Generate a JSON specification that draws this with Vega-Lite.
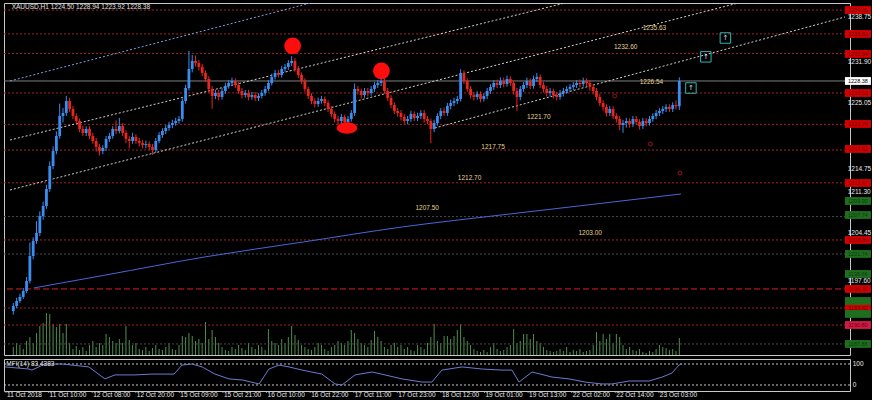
{
"$schema": "https://vega.github.io/schema/vega-lite/v6.json",
"background": "#000000",
"padding": {"left": 2, "top": 2, "right": 0, "bottom": 0},
"spacing": 2,
"config": {
  "view": {"stroke": "#c8c8c8", "strokeWidth": 1},
  "text": {"font": "Liberation Sans"}
},
"datasets": {
"candles": [
{"i":0,"o":1192.96,"h":1194.2,"l":1192.4,"c":1193.73,"v":800},
{"i":1,"o":1193.73,"h":1195.0,"l":1193.4,"c":1194.5,"v":1200},
{"i":2,"o":1194.5,"h":1195.6,"l":1194.2,"c":1195.12,"v":1000},
{"i":3,"o":1195.12,"h":1196.5,"l":1194.8,"c":1196.04,"v":600},
{"i":4,"o":1196.04,"h":1198.2,"l":1195.7,"c":1197.58,"v":1400},
{"i":5,"o":1197.58,"h":1203.5,"l":1197.2,"c":1201.43,"v":1800},
{"i":6,"o":1201.43,"h":1204.3,"l":1200.9,"c":1203.74,"v":1200},
{"i":7,"o":1203.74,"h":1206.8,"l":1203.3,"c":1204.97,"v":2200},
{"i":8,"o":1204.97,"h":1208.3,"l":1204.5,"c":1207.59,"v":2900},
{"i":9,"o":1207.59,"h":1209.8,"l":1207.0,"c":1209.13,"v":3200},
{"i":10,"o":1209.13,"h":1212.4,"l":1208.7,"c":1211.75,"v":4200},
{"i":11,"o":1211.75,"h":1216.0,"l":1211.3,"c":1215.29,"v":4100},
{"i":12,"o":1215.29,"h":1218.3,"l":1214.8,"c":1217.6,"v":3100},
{"i":13,"o":1217.6,"h":1220.6,"l":1217.1,"c":1219.91,"v":2800},
{"i":14,"o":1219.91,"h":1224.9,"l":1219.5,"c":1222.99,"v":3100},
{"i":15,"o":1222.99,"h":1224.2,"l":1222.0,"c":1223.45,"v":2200},
{"i":16,"o":1223.45,"h":1226.1,"l":1223.0,"c":1225.3,"v":3100},
{"i":17,"o":1225.3,"h":1225.8,"l":1223.6,"c":1224.07,"v":1200},
{"i":18,"o":1224.07,"h":1224.5,"l":1222.5,"c":1222.99,"v":600},
{"i":19,"o":1222.99,"h":1223.4,"l":1221.7,"c":1222.22,"v":900},
{"i":20,"o":1222.22,"h":1222.6,"l":1220.5,"c":1220.99,"v":500},
{"i":21,"o":1220.99,"h":1221.5,"l":1219.9,"c":1220.37,"v":800},
{"i":22,"o":1220.37,"h":1221.4,"l":1219.9,"c":1220.99,"v":400},
{"i":23,"o":1220.99,"h":1221.4,"l":1219.4,"c":1219.91,"v":1000},
{"i":24,"o":1219.91,"h":1220.4,"l":1218.7,"c":1219.14,"v":1400},
{"i":25,"o":1219.14,"h":1219.6,"l":1217.5,"c":1218.22,"v":800},
{"i":26,"o":1218.22,"h":1218.7,"l":1216.9,"c":1217.6,"v":1200},
{"i":27,"o":1217.6,"h":1218.5,"l":1217.1,"c":1218.06,"v":1000},
{"i":28,"o":1218.06,"h":1219.9,"l":1217.6,"c":1219.45,"v":2100},
{"i":29,"o":1219.45,"h":1220.4,"l":1219.0,"c":1219.91,"v":1800},
{"i":30,"o":1219.91,"h":1221.4,"l":1219.5,"c":1220.99,"v":1400},
{"i":31,"o":1220.99,"h":1222.3,"l":1220.2,"c":1220.68,"v":1200},
{"i":32,"o":1220.68,"h":1222.7,"l":1220.3,"c":1221.45,"v":1600},
{"i":33,"o":1221.45,"h":1221.9,"l":1219.9,"c":1220.37,"v":1200},
{"i":34,"o":1220.37,"h":1220.8,"l":1218.8,"c":1219.45,"v":2900},
{"i":35,"o":1219.45,"h":1219.9,"l":1218.0,"c":1219.14,"v":1500},
{"i":36,"o":1219.14,"h":1220.4,"l":1218.7,"c":1219.76,"v":1000},
{"i":37,"o":1219.76,"h":1220.2,"l":1218.7,"c":1219.14,"v":1200},
{"i":38,"o":1219.14,"h":1219.6,"l":1218.3,"c":1218.83,"v":600},
{"i":39,"o":1218.83,"h":1219.3,"l":1218.0,"c":1218.52,"v":500},
{"i":40,"o":1218.52,"h":1219.2,"l":1218.0,"c":1218.68,"v":800},
{"i":41,"o":1218.68,"h":1219.1,"l":1217.7,"c":1218.22,"v":400},
{"i":42,"o":1218.22,"h":1218.7,"l":1217.0,"c":1217.75,"v":700},
{"i":43,"o":1217.75,"h":1219.6,"l":1217.3,"c":1219.14,"v":1000},
{"i":44,"o":1219.14,"h":1220.5,"l":1218.8,"c":1220.06,"v":600},
{"i":45,"o":1220.06,"h":1221.1,"l":1219.6,"c":1220.68,"v":500},
{"i":46,"o":1220.68,"h":1221.6,"l":1220.2,"c":1221.14,"v":800},
{"i":47,"o":1221.14,"h":1222.1,"l":1220.7,"c":1221.6,"v":1200},
{"i":48,"o":1221.6,"h":1222.4,"l":1221.1,"c":1221.91,"v":600},
{"i":49,"o":1221.91,"h":1222.7,"l":1221.5,"c":1222.22,"v":500},
{"i":50,"o":1222.22,"h":1223.0,"l":1221.8,"c":1222.53,"v":1000},
{"i":51,"o":1222.53,"h":1225.7,"l":1222.1,"c":1225.3,"v":1900},
{"i":52,"o":1225.3,"h":1227.8,"l":1224.9,"c":1227.3,"v":1800},
{"i":53,"o":1227.3,"h":1233.0,"l":1226.9,"c":1230.23,"v":2200},
{"i":54,"o":1230.23,"h":1232.4,"l":1229.7,"c":1231.46,"v":1900},
{"i":55,"o":1231.46,"h":1232.3,"l":1230.6,"c":1231.15,"v":1400},
{"i":56,"o":1231.15,"h":1231.6,"l":1230.0,"c":1230.54,"v":1600},
{"i":57,"o":1230.54,"h":1231.0,"l":1229.1,"c":1229.61,"v":1200},
{"i":58,"o":1229.61,"h":1230.0,"l":1228.2,"c":1228.69,"v":3300},
{"i":59,"o":1228.69,"h":1229.1,"l":1226.6,"c":1227.15,"v":1600},
{"i":60,"o":1227.15,"h":1227.6,"l":1224.1,"c":1226.07,"v":2500},
{"i":61,"o":1226.07,"h":1227.0,"l":1225.6,"c":1226.53,"v":1800},
{"i":62,"o":1226.53,"h":1227.0,"l":1225.4,"c":1225.92,"v":1200},
{"i":63,"o":1225.92,"h":1227.3,"l":1225.5,"c":1226.84,"v":800},
{"i":64,"o":1226.84,"h":1228.1,"l":1226.4,"c":1227.61,"v":500},
{"i":65,"o":1227.61,"h":1228.5,"l":1227.2,"c":1228.07,"v":400},
{"i":66,"o":1228.07,"h":1228.9,"l":1227.6,"c":1228.38,"v":800},
{"i":67,"o":1228.38,"h":1228.8,"l":1227.3,"c":1227.76,"v":600},
{"i":68,"o":1227.76,"h":1228.2,"l":1226.4,"c":1226.84,"v":1000},
{"i":69,"o":1226.84,"h":1227.3,"l":1225.7,"c":1226.22,"v":700},
{"i":70,"o":1226.22,"h":1227.0,"l":1225.8,"c":1226.53,"v":500},
{"i":71,"o":1226.53,"h":1227.0,"l":1225.4,"c":1225.92,"v":1200},
{"i":72,"o":1225.92,"h":1226.7,"l":1225.5,"c":1226.22,"v":800},
{"i":73,"o":1226.22,"h":1226.7,"l":1225.3,"c":1225.76,"v":600},
{"i":74,"o":1225.76,"h":1226.5,"l":1225.3,"c":1226.07,"v":1000},
{"i":75,"o":1226.07,"h":1227.0,"l":1225.7,"c":1226.53,"v":800},
{"i":76,"o":1226.53,"h":1227.6,"l":1226.1,"c":1227.15,"v":500},
{"i":77,"o":1227.15,"h":1228.5,"l":1226.8,"c":1228.07,"v":2600},
{"i":78,"o":1228.07,"h":1229.5,"l":1227.7,"c":1229.0,"v":1400},
{"i":79,"o":1229.0,"h":1230.1,"l":1228.6,"c":1229.61,"v":1200},
{"i":80,"o":1229.61,"h":1230.1,"l":1228.9,"c":1229.3,"v":1000},
{"i":81,"o":1229.3,"h":1230.7,"l":1228.9,"c":1230.23,"v":1600},
{"i":82,"o":1230.23,"h":1231.0,"l":1229.8,"c":1230.54,"v":1200},
{"i":83,"o":1230.54,"h":1231.6,"l":1230.1,"c":1231.15,"v":1800},
{"i":84,"o":1231.15,"h":1232.2,"l":1230.7,"c":1231.46,"v":2900},
{"i":85,"o":1231.46,"h":1231.9,"l":1229.8,"c":1230.23,"v":2000},
{"i":86,"o":1230.23,"h":1230.7,"l":1228.8,"c":1229.3,"v":1500},
{"i":87,"o":1229.3,"h":1229.7,"l":1227.9,"c":1228.38,"v":1000},
{"i":88,"o":1228.38,"h":1228.8,"l":1226.7,"c":1227.15,"v":800},
{"i":89,"o":1227.15,"h":1227.5,"l":1225.6,"c":1226.07,"v":600},
{"i":90,"o":1226.07,"h":1226.5,"l":1224.8,"c":1225.3,"v":500},
{"i":91,"o":1225.3,"h":1225.7,"l":1224.3,"c":1224.84,"v":800},
{"i":92,"o":1224.84,"h":1225.8,"l":1224.4,"c":1225.3,"v":1200},
{"i":93,"o":1225.3,"h":1226.1,"l":1224.9,"c":1225.61,"v":1000},
{"i":94,"o":1225.61,"h":1226.0,"l":1224.5,"c":1224.99,"v":600},
{"i":95,"o":1224.99,"h":1225.4,"l":1223.6,"c":1224.07,"v":400},
{"i":96,"o":1224.07,"h":1224.5,"l":1222.8,"c":1223.3,"v":800},
{"i":97,"o":1223.3,"h":1223.7,"l":1222.0,"c":1222.53,"v":1000},
{"i":98,"o":1222.53,"h":1223.0,"l":1221.7,"c":1222.22,"v":1400},
{"i":99,"o":1222.22,"h":1223.3,"l":1221.8,"c":1222.84,"v":1200},
{"i":100,"o":1222.84,"h":1223.2,"l":1221.6,"c":1222.07,"v":1000},
{"i":101,"o":1222.07,"h":1223.0,"l":1221.6,"c":1222.53,"v":1400},
{"i":102,"o":1222.53,"h":1223.9,"l":1222.1,"c":1223.45,"v":2500},
{"i":103,"o":1223.45,"h":1228.0,"l":1223.0,"c":1227.15,"v":2200},
{"i":104,"o":1227.15,"h":1227.6,"l":1226.3,"c":1226.84,"v":1600},
{"i":105,"o":1226.84,"h":1227.2,"l":1225.7,"c":1226.22,"v":1200},
{"i":106,"o":1226.22,"h":1227.3,"l":1225.8,"c":1226.84,"v":1000},
{"i":107,"o":1226.84,"h":1227.3,"l":1226.0,"c":1226.53,"v":800},
{"i":108,"o":1226.53,"h":1227.6,"l":1226.1,"c":1227.15,"v":1500},
{"i":109,"o":1227.15,"h":1228.2,"l":1226.7,"c":1227.76,"v":2400},
{"i":110,"o":1227.76,"h":1228.5,"l":1227.3,"c":1228.07,"v":1800},
{"i":111,"o":1228.07,"h":1228.9,"l":1227.6,"c":1228.38,"v":1400},
{"i":112,"o":1228.38,"h":1228.8,"l":1226.4,"c":1226.84,"v":800},
{"i":113,"o":1226.84,"h":1227.3,"l":1225.3,"c":1225.76,"v":600},
{"i":114,"o":1225.76,"h":1226.2,"l":1224.2,"c":1224.68,"v":1000},
{"i":115,"o":1224.68,"h":1225.1,"l":1223.3,"c":1223.76,"v":1200},
{"i":116,"o":1223.76,"h":1224.2,"l":1222.9,"c":1223.45,"v":800},
{"i":117,"o":1223.45,"h":1223.9,"l":1222.3,"c":1222.84,"v":1000},
{"i":118,"o":1222.84,"h":1223.3,"l":1221.7,"c":1222.22,"v":600},
{"i":119,"o":1222.22,"h":1223.0,"l":1221.7,"c":1222.53,"v":800},
{"i":120,"o":1222.53,"h":1223.8,"l":1222.1,"c":1223.3,"v":500},
{"i":121,"o":1223.3,"h":1223.7,"l":1222.2,"c":1222.68,"v":400},
{"i":122,"o":1222.68,"h":1223.5,"l":1222.2,"c":1222.99,"v":1000},
{"i":123,"o":1222.99,"h":1223.9,"l":1222.5,"c":1223.45,"v":800},
{"i":124,"o":1223.45,"h":1223.9,"l":1222.0,"c":1222.53,"v":600},
{"i":125,"o":1222.53,"h":1223.0,"l":1221.7,"c":1222.22,"v":1200},
{"i":126,"o":1222.22,"h":1222.6,"l":1218.8,"c":1220.99,"v":1800},
{"i":127,"o":1220.99,"h":1222.4,"l":1220.5,"c":1221.91,"v":3100},
{"i":128,"o":1221.91,"h":1223.4,"l":1221.5,"c":1222.99,"v":1400},
{"i":129,"o":1222.99,"h":1224.2,"l":1222.5,"c":1223.76,"v":1200},
{"i":130,"o":1223.76,"h":1224.3,"l":1223.0,"c":1223.45,"v":1900},
{"i":131,"o":1223.45,"h":1225.0,"l":1223.0,"c":1224.53,"v":1900},
{"i":132,"o":1224.53,"h":1225.5,"l":1224.0,"c":1224.99,"v":1600},
{"i":133,"o":1224.99,"h":1225.8,"l":1224.5,"c":1225.3,"v":1900},
{"i":134,"o":1225.3,"h":1226.1,"l":1224.8,"c":1225.61,"v":2500},
{"i":135,"o":1225.61,"h":1230.2,"l":1225.2,"c":1229.61,"v":3100},
{"i":136,"o":1229.61,"h":1230.0,"l":1227.9,"c":1228.38,"v":1800},
{"i":137,"o":1228.38,"h":1228.8,"l":1226.7,"c":1227.15,"v":1400},
{"i":138,"o":1227.15,"h":1227.6,"l":1225.7,"c":1226.22,"v":1000},
{"i":139,"o":1226.22,"h":1226.7,"l":1225.4,"c":1225.92,"v":600},
{"i":140,"o":1225.92,"h":1226.8,"l":1225.5,"c":1226.38,"v":400},
{"i":141,"o":1226.38,"h":1226.8,"l":1225.1,"c":1225.61,"v":300},
{"i":142,"o":1225.61,"h":1226.5,"l":1225.2,"c":1226.07,"v":500},
{"i":143,"o":1226.07,"h":1227.3,"l":1225.6,"c":1226.84,"v":300},
{"i":144,"o":1226.84,"h":1227.9,"l":1226.4,"c":1227.46,"v":800},
{"i":145,"o":1227.46,"h":1228.5,"l":1227.0,"c":1228.07,"v":1200},
{"i":146,"o":1228.07,"h":1228.6,"l":1227.3,"c":1227.76,"v":600},
{"i":147,"o":1227.76,"h":1228.9,"l":1227.3,"c":1228.38,"v":400},
{"i":148,"o":1228.38,"h":1228.9,"l":1227.4,"c":1227.92,"v":500},
{"i":149,"o":1227.92,"h":1229.2,"l":1227.5,"c":1228.69,"v":800},
{"i":150,"o":1228.69,"h":1229.1,"l":1227.6,"c":1228.07,"v":1000},
{"i":151,"o":1228.07,"h":1228.5,"l":1226.3,"c":1226.84,"v":2600},
{"i":152,"o":1226.84,"h":1227.3,"l":1223.8,"c":1225.92,"v":1200},
{"i":153,"o":1225.92,"h":1227.6,"l":1225.4,"c":1227.15,"v":1400},
{"i":154,"o":1227.15,"h":1228.2,"l":1226.7,"c":1227.76,"v":2100},
{"i":155,"o":1227.76,"h":1228.9,"l":1227.3,"c":1228.38,"v":2100},
{"i":156,"o":1228.38,"h":1228.8,"l":1227.1,"c":1227.61,"v":1600},
{"i":157,"o":1227.61,"h":1229.2,"l":1227.2,"c":1228.69,"v":2100},
{"i":158,"o":1228.69,"h":1229.6,"l":1228.2,"c":1229.0,"v":1400},
{"i":159,"o":1229.0,"h":1229.4,"l":1227.3,"c":1227.76,"v":1200},
{"i":160,"o":1227.76,"h":1228.2,"l":1226.6,"c":1227.15,"v":800},
{"i":161,"o":1227.15,"h":1227.6,"l":1226.0,"c":1226.53,"v":500},
{"i":162,"o":1226.53,"h":1227.3,"l":1226.0,"c":1226.84,"v":400},
{"i":163,"o":1226.84,"h":1227.2,"l":1225.7,"c":1226.22,"v":300},
{"i":164,"o":1226.22,"h":1226.7,"l":1225.4,"c":1225.92,"v":400},
{"i":165,"o":1225.92,"h":1227.0,"l":1225.5,"c":1226.53,"v":600},
{"i":166,"o":1226.53,"h":1227.3,"l":1226.0,"c":1226.84,"v":400},
{"i":167,"o":1226.84,"h":1227.6,"l":1226.4,"c":1227.15,"v":800},
{"i":168,"o":1227.15,"h":1227.9,"l":1226.7,"c":1227.46,"v":300},
{"i":169,"o":1227.46,"h":1228.2,"l":1227.0,"c":1227.76,"v":500},
{"i":170,"o":1227.76,"h":1228.5,"l":1227.3,"c":1228.07,"v":400},
{"i":171,"o":1228.07,"h":1228.6,"l":1227.4,"c":1227.92,"v":600},
{"i":172,"o":1227.92,"h":1228.9,"l":1227.5,"c":1228.38,"v":300},
{"i":173,"o":1228.38,"h":1228.8,"l":1227.6,"c":1228.07,"v":400},
{"i":174,"o":1228.07,"h":1228.5,"l":1226.9,"c":1227.46,"v":500},
{"i":175,"o":1227.46,"h":1227.9,"l":1226.3,"c":1226.84,"v":1000},
{"i":176,"o":1226.84,"h":1227.3,"l":1225.4,"c":1225.92,"v":2300},
{"i":177,"o":1225.92,"h":1226.4,"l":1224.5,"c":1224.99,"v":1400},
{"i":178,"o":1224.99,"h":1225.4,"l":1223.8,"c":1224.38,"v":2100},
{"i":179,"o":1224.38,"h":1224.8,"l":1222.9,"c":1223.45,"v":1600},
{"i":180,"o":1223.45,"h":1224.5,"l":1223.0,"c":1224.07,"v":2100},
{"i":181,"o":1224.07,"h":1224.5,"l":1222.5,"c":1222.99,"v":1200},
{"i":182,"o":1222.99,"h":1223.4,"l":1222.0,"c":1222.53,"v":2100},
{"i":183,"o":1222.53,"h":1223.0,"l":1220.8,"c":1221.6,"v":1800},
{"i":184,"o":1221.6,"h":1222.4,"l":1220.4,"c":1221.91,"v":1000},
{"i":185,"o":1221.91,"h":1222.7,"l":1221.2,"c":1222.22,"v":600},
{"i":186,"o":1222.22,"h":1222.6,"l":1221.2,"c":1221.76,"v":800},
{"i":187,"o":1221.76,"h":1223.0,"l":1221.3,"c":1222.53,"v":500},
{"i":188,"o":1222.53,"h":1223.0,"l":1221.6,"c":1222.07,"v":400},
{"i":189,"o":1222.07,"h":1222.5,"l":1220.9,"c":1221.45,"v":600},
{"i":190,"o":1221.45,"h":1222.7,"l":1221.0,"c":1222.22,"v":300},
{"i":191,"o":1222.22,"h":1222.7,"l":1221.4,"c":1221.91,"v":200},
{"i":192,"o":1221.91,"h":1223.0,"l":1221.5,"c":1222.53,"v":400},
{"i":193,"o":1222.53,"h":1223.4,"l":1222.1,"c":1222.99,"v":300},
{"i":194,"o":1222.99,"h":1223.9,"l":1222.5,"c":1223.45,"v":600},
{"i":195,"o":1223.45,"h":1224.2,"l":1223.0,"c":1223.76,"v":1000},
{"i":196,"o":1223.76,"h":1224.5,"l":1223.3,"c":1224.07,"v":800},
{"i":197,"o":1224.07,"h":1224.8,"l":1223.6,"c":1224.38,"v":700},
{"i":198,"o":1224.38,"h":1224.8,"l":1223.6,"c":1224.07,"v":500},
{"i":199,"o":1224.07,"h":1225.1,"l":1223.6,"c":1224.68,"v":600},
{"i":200,"o":1224.68,"h":1225.4,"l":1224.0,"c":1224.5,"v":400},
{"i":201,"o":1224.5,"h":1228.94,"l":1223.92,"c":1228.38,"v":1700}
],
"hl": [
{"p":1239.3,"k":"r"},{"p":1235.63,"k":"r"},{"p":1232.6,"k":"r"},{"p":1226.54,"k":"r"},{"p":1221.7,"k":"r"},{"p":1217.75,"k":"r"},{"p":1212.7,"k":"r"},{"p":1203.9,"k":"r"},{"p":1193.42,"k":"r"},{"p":1190.8,"k":"r"},
{"p":1196.35,"k":"b"},
{"p":1207.5,"k":"g"},{"p":1201.74,"k":"g"},{"p":1187.88,"k":"g"},
{"p":1228.38,"k":"bid"}
],
"chan": [
{"id":"L1","i":-1,"p":1228.38},{"id":"L1","i":92.05,"p":1240.7},
{"id":"L2","i":-1,"p":1219.29},{"id":"L2","i":169,"p":1240.7},
{"id":"L3","i":-1,"p":1211.59},{"id":"L3","i":218.8,"p":1240.39},
{"id":"L4","i":127.2,"p":1221.14},{"id":"L4","i":251,"p":1238.24}
],
"ma": [
{"i":6.16,"p":1196.5},{"i":27.9,"p":1198.5},{"i":57.8,"p":1201.28},{"i":87.6,"p":1203.59},{"i":117.4,"p":1205.9},{"i":147.2,"p":1207.74},{"i":177,"p":1209.51},{"i":201.5,"p":1210.98}
],
"lbl": [
{"t":"1235.63","i":193.5,"p":1236.54},{"t":"1232.60","i":184.8,"p":1233.62},{"t":"1226.54","i":192.6,"p":1228.23},{"t":"1221.70","i":158.6,"p":1222.84},{"t":"1217.75","i":144.8,"p":1218.22},{"t":"1212.70","i":137.7,"p":1213.44},{"t":"1207.50","i":124.9,"p":1208.82},{"t":"1203.00","i":174.1,"p":1204.97}
],
"dots": [{"i":84.3,"p":1233.77},{"i":111.1,"p":1229.92}],
"ell": [{"i":100.7,"p":1221.14}],
"teal": [{"i":204.5,"p":1227.3},{"i":209,"p":1232.1},{"i":214.9,"p":1235.0}],
"rglyph": [{"i":201.2,"p":1214.2},{"i":181.5,"p":1226.07},{"i":192.3,"p":1218.68}],
"ylab": [{"p":1197.6},{"p":1211.3},{"p":1214.75},{"p":1225.05}],
"ylabdn": [{"p":1231.9},{"p":1238.75}],
"ylabup": [{"p":1204.45}],
"boxes": [
{"p":1239.31,"k":"r"},{"p":1235.62,"k":"r"},{"p":1232.54,"k":"r"},{"p":1226.53,"k":"r"},{"p":1221.76,"k":"r"},{"p":1217.91,"k":"r"},{"p":1212.67,"k":"r"},{"p":1203.89,"k":"r"},{"p":1196.35,"k":"r"},{"p":1193.42,"k":"r"},{"p":1190.8,"k":"pk"},
{"p":1209.9,"k":"g"},{"p":1207.74,"k":"g"},{"p":1201.74,"k":"g"},{"p":1198.66,"k":"g"},{"p":1194.5,"k":"g"},{"p":1192.5,"k":"g"},{"p":1187.88,"k":"g"},
{"p":1228.38,"k":"w"}
],
"mfi": [
{"i":-1,"m":86},{"i":6.2,"m":76},{"i":7,"m":71},{"i":10.9,"m":100},{"i":16,"m":100},{"i":24,"m":86},{"i":28.8,"m":29},{"i":31.8,"m":48},{"i":37.8,"m":48},{"i":42.8,"m":52},{"i":49.4,"m":52},{"i":51.8,"m":95},{"i":54.8,"m":100},{"i":57.8,"m":86},{"i":61.6,"m":52},{"i":65.8,"m":29},{"i":69.7,"m":24},{"i":74.8,"m":5},{"i":77.7,"m":76},{"i":80.7,"m":95},{"i":83.7,"m":86},{"i":87.6,"m":71},{"i":93.5,"m":52},{"i":97.4,"m":5},{"i":99.5,"m":0},{"i":103.4,"m":48},{"i":108.5,"m":62},{"i":112.3,"m":48},{"i":117.4,"m":29},{"i":123.4,"m":14},{"i":126.3,"m":14},{"i":129.3,"m":71},{"i":135.3,"m":86},{"i":141.3,"m":76},{"i":147.2,"m":71},{"i":150.2,"m":71},{"i":152.3,"m":14},{"i":156.2,"m":62},{"i":162.1,"m":38},{"i":167.2,"m":29},{"i":172,"m":14},{"i":177,"m":5},{"i":180,"m":5},{"i":185.1,"m":19},{"i":191.1,"m":19},{"i":195,"m":38},{"i":197.9,"m":57},{"i":200,"m":95},{"i":200.9,"m":100}
],
"lev": [{"m":0},{"m":100}],
"tlab": [
{"i":-0.7,"t":"11 Oct 2018"},{"i":12,"t":"11 Oct 10:00"},{"i":25,"t":"12 Oct 08:00"},{"i":38,"t":"12 Oct 20:00"},{"i":51,"t":"15 Oct 09:00"},{"i":64,"t":"15 Oct 21:00"},{"i":77,"t":"16 Oct 10:00"},{"i":90,"t":"16 Oct 22:00"},{"i":103,"t":"17 Oct 11:00"},{"i":116,"t":"17 Oct 23:00"},{"i":129,"t":"18 Oct 12:00"},{"i":142,"t":"19 Oct 01:00"},{"i":155,"t":"19 Oct 13:00"},{"i":168,"t":"22 Oct 02:00"},{"i":181,"t":"22 Oct 14:00"},{"i":194,"t":"23 Oct 03:00"}
]
},
"vconcat": [
{
 "width": 846, "height": 352,
 "resolve": {"scale": {"y": "independent"}},
 "layer": [
  {
   "data": {"name": "candles"},
   "mark": {"type": "rule", "strokeWidth": 1, "color": "#4f8f4f"},
   "encoding": {
    "x": {"field": "i", "type": "quantitative", "scale": {"domain": [-1.3, 251], "nice": false, "zero": false}, "axis": null},
    "y": {"field": "v", "type": "quantitative", "scale": {"domain": [0, 35200], "nice": false}, "axis": null},
    "y2": {"datum": 0}
   }
  },
  {
   "layer": [
    {
     "data": {"name": "hl"},
     "transform": [{"filter": "datum.k == 'r'"}],
     "mark": {"type": "rule", "color": "#a52222", "strokeDash": [2, 2], "strokeWidth": 1},
     "encoding": {
      "y": {"field": "p", "type": "quantitative", "scale": {"domain": [1186.18, 1240.39], "nice": false, "zero": false}, "axis": null}
     }
    },
    {
     "data": {"name": "hl"},
     "transform": [{"filter": "datum.k == 'g'"}],
     "mark": {"type": "rule", "color": "#4a4a4a", "strokeDash": [2, 2], "strokeWidth": 1},
     "encoding": {"y": {"field": "p", "type": "quantitative", "scale": {"domain": [1186.18, 1240.39], "nice": false, "zero": false}, "axis": null}}
    },
    {
     "data": {"name": "hl"},
     "transform": [{"filter": "datum.k == 'b'"}],
     "mark": {"type": "rule", "color": "#e02020", "strokeDash": [6, 3], "strokeWidth": 1},
     "encoding": {"y": {"field": "p", "type": "quantitative", "scale": {"domain": [1186.18, 1240.39], "nice": false, "zero": false}, "axis": null}}
    },
    {
     "data": {"name": "hl"},
     "transform": [{"filter": "datum.k == 'bid'"}],
     "mark": {"type": "rule", "color": "#808080", "strokeWidth": 1},
     "encoding": {"y": {"field": "p", "type": "quantitative", "scale": {"domain": [1186.18, 1240.39], "nice": false, "zero": false}, "axis": null}}
    },
    {
     "data": {"name": "chan"},
     "mark": {"type": "line", "strokeDash": [2, 2], "strokeWidth": 1, "clip": true},
     "encoding": {
      "x": {"field": "i", "type": "quantitative", "scale": {"domain": [-1.3, 251], "nice": false, "zero": false}, "axis": null},
      "y": {"field": "p", "type": "quantitative", "scale": {"domain": [1186.18, 1240.39], "nice": false, "zero": false}, "axis": null},
      "detail": {"field": "id"},
      "color": {"condition": {"test": "datum.id == 'L1'", "value": "#7d9be0"}, "value": "#d0d0d0"}
     }
    },
    {
     "data": {"name": "ma"},
     "mark": {"type": "line", "color": "#4a66d8", "strokeWidth": 1, "interpolate": "monotone"},
     "encoding": {
      "x": {"field": "i", "type": "quantitative", "scale": {"domain": [-1.3, 251], "nice": false, "zero": false}, "axis": null},
      "y": {"field": "p", "type": "quantitative", "scale": {"domain": [1186.18, 1240.39], "nice": false, "zero": false}, "axis": null}
     }
    },
    {
     "data": {"name": "candles"},
     "mark": {"type": "rule", "strokeWidth": 1},
     "encoding": {
      "x": {"field": "i", "type": "quantitative", "scale": {"domain": [-1.3, 251], "nice": false, "zero": false}, "axis": null},
      "y": {"field": "l", "type": "quantitative", "scale": {"domain": [1186.18, 1240.39], "nice": false, "zero": false}, "axis": null},
      "y2": {"field": "h"},
      "color": {"condition": {"test": "datum.c >= datum.o", "value": "#3a8ef0"}, "value": "#e8261e"}
     }
    },
    {
     "data": {"name": "candles"},
     "mark": {"type": "bar", "width": 2.8},
     "encoding": {
      "x": {"field": "i", "type": "quantitative", "scale": {"domain": [-1.3, 251], "nice": false, "zero": false}, "axis": null},
      "y": {"field": "o", "type": "quantitative", "scale": {"domain": [1186.18, 1240.39], "nice": false, "zero": false}, "axis": null},
      "y2": {"field": "c"},
      "color": {"condition": {"test": "datum.c >= datum.o", "value": "#3a8ef0"}, "value": "#e8261e"}
     }
    },
    {
     "data": {"name": "lbl"},
     "mark": {"type": "text", "color": "#e6d28c", "fontSize": 6.5, "align": "center", "baseline": "middle"},
     "encoding": {
      "x": {"field": "i", "type": "quantitative", "scale": {"domain": [-1.3, 251], "nice": false, "zero": false}, "axis": null},
      "y": {"field": "p", "type": "quantitative", "scale": {"domain": [1186.18, 1240.39], "nice": false, "zero": false}, "axis": null},
      "text": {"field": "t"}
     }
    },
    {
     "data": {"name": "dots"},
     "mark": {"type": "point", "shape": "circle", "filled": true, "color": "#ff0d0d", "opacity": 1, "size": 280},
     "encoding": {
      "x": {"field": "i", "type": "quantitative", "scale": {"domain": [-1.3, 251], "nice": false, "zero": false}, "axis": null},
      "y": {"field": "p", "type": "quantitative", "scale": {"domain": [1186.18, 1240.39], "nice": false, "zero": false}, "axis": null}
     }
    },
    {
     "data": {"name": "ell"},
     "mark": {"type": "point", "shape": "M-1,0A1,0.55 0 1,0 1,0A1,0.55 0 1,0 -1,0Z", "filled": true, "color": "#ff0d0d", "opacity": 1, "size": 420},
     "encoding": {
      "x": {"field": "i", "type": "quantitative", "scale": {"domain": [-1.3, 251], "nice": false, "zero": false}, "axis": null},
      "y": {"field": "p", "type": "quantitative", "scale": {"domain": [1186.18, 1240.39], "nice": false, "zero": false}, "axis": null}
     }
    },
    {
     "data": {"name": "teal"},
     "mark": {"type": "point", "shape": "square", "filled": false, "color": "#2fb5b5", "strokeWidth": 1, "opacity": 1, "size": 110},
     "encoding": {
      "x": {"field": "i", "type": "quantitative", "scale": {"domain": [-1.3, 251], "nice": false, "zero": false}, "axis": null},
      "y": {"field": "p", "type": "quantitative", "scale": {"domain": [1186.18, 1240.39], "nice": false, "zero": false}, "axis": null}
     }
    },
    {
     "data": {"name": "teal"},
     "mark": {"type": "text", "text": "↑", "color": "#bfeaea", "fontSize": 7, "align": "center", "baseline": "middle", "font": "DejaVu Sans"},
     "encoding": {
      "x": {"field": "i", "type": "quantitative", "scale": {"domain": [-1.3, 251], "nice": false, "zero": false}, "axis": null},
      "y": {"field": "p", "type": "quantitative", "scale": {"domain": [1186.18, 1240.39], "nice": false, "zero": false}, "axis": null}
     }
    },
    {
     "data": {"name": "rglyph"},
     "mark": {"type": "point", "shape": "circle", "filled": false, "color": "#b01818", "strokeWidth": 1.2, "size": 14},
     "encoding": {
      "x": {"field": "i", "type": "quantitative", "scale": {"domain": [-1.3, 251], "nice": false, "zero": false}, "axis": null},
      "y": {"field": "p", "type": "quantitative", "scale": {"domain": [1186.18, 1240.39], "nice": false, "zero": false}, "axis": null}
     }
    },
    {
     "data": {"values": [{"t": "XAUUSD,H1  1224.50 1228.94 1223.92 1228.38", "i": -0.5, "p": 1239.75}]},
     "mark": {"type": "text", "color": "#e0e0e0", "fontSize": 6.5, "align": "left", "baseline": "middle"},
     "encoding": {
      "x": {"field": "i", "type": "quantitative", "scale": {"domain": [-1.3, 251], "nice": false, "zero": false}, "axis": null},
      "y": {"field": "p", "type": "quantitative", "scale": {"domain": [1186.18, 1240.39], "nice": false, "zero": false}, "axis": null},
      "text": {"field": "t"}
     }
    },
    {
     "data": {"name": "ylab"},
     "mark": {"type": "text", "color": "#e8e8e8", "fontSize": 6.5, "align": "left", "baseline": "middle"},
     "encoding": {
      "x": {"datum": 251.8, "scale": {"domain": [-1.3, 251], "nice": false, "zero": false}, "axis": null},
      "y": {"field": "p", "type": "quantitative", "scale": {"domain": [1186.18, 1240.39], "nice": false, "zero": false}, "axis": null},
      "text": {"field": "p", "type": "quantitative", "format": ".2f"}
     }
    },
    {
     "data": {"name": "ylabdn"},
     "mark": {"type": "text", "color": "#e8e8e8", "fontSize": 6.5, "align": "left", "baseline": "middle", "dy": 3.5},
     "encoding": {
      "x": {"datum": 251.8, "scale": {"domain": [-1.3, 251], "nice": false, "zero": false}, "axis": null},
      "y": {"field": "p", "type": "quantitative", "scale": {"domain": [1186.18, 1240.39], "nice": false, "zero": false}, "axis": null},
      "text": {"field": "p", "type": "quantitative", "format": ".2f"}
     }
    },
    {
     "data": {"name": "ylabup"},
     "mark": {"type": "text", "color": "#e8e8e8", "fontSize": 6.5, "align": "left", "baseline": "middle", "dy": -3.5},
     "encoding": {
      "x": {"datum": 251.8, "scale": {"domain": [-1.3, 251], "nice": false, "zero": false}, "axis": null},
      "y": {"field": "p", "type": "quantitative", "scale": {"domain": [1186.18, 1240.39], "nice": false, "zero": false}, "axis": null},
      "text": {"field": "p", "type": "quantitative", "format": ".2f"}
     }
    },
    {
     "data": {"name": "boxes"},
     "mark": {"type": "point", "shape": "M-1,-0.3H1V0.3H-1Z", "filled": true, "opacity": 1, "size": 676},
     "encoding": {
      "x": {"datum": 254.9, "scale": {"domain": [-1.3, 251], "nice": false, "zero": false}, "axis": null},
      "y": {"field": "p", "type": "quantitative", "scale": {"domain": [1186.18, 1240.39], "nice": false, "zero": false}, "axis": null},
      "color": {"condition": [{"test": "datum.k == 'g'", "value": "#1f6e1f"}, {"test": "datum.k == 'w'", "value": "#ffffff"}, {"test": "datum.k == 'pk'", "value": "#d01b48"}], "value": "#d40000"}
     }
    },
    {
     "data": {"name": "boxes"},
     "transform": [{"filter": "datum.p != 1192.5 && datum.p != 1194.5"}],
     "mark": {"type": "text", "fontSize": 5.5, "align": "center", "baseline": "middle"},
     "encoding": {
      "x": {"datum": 254.9, "scale": {"domain": [-1.3, 251], "nice": false, "zero": false}, "axis": null},
      "y": {"field": "p", "type": "quantitative", "scale": {"domain": [1186.18, 1240.39], "nice": false, "zero": false}, "axis": null},
      "text": {"field": "p", "type": "quantitative", "format": ".2f"},
      "color": {"condition": [{"test": "datum.k == 'g'", "value": "#0c3a0c"}, {"test": "datum.k == 'w'", "value": "#000000"}], "value": "#6a0000"}
     }
    }
   ]
  }
 ]
},
{
 "width": 846, "height": 32,
 "layer": [
  {
   "data": {"name": "lev"},
   "mark": {"type": "rule", "color": "#c8c8c8", "strokeDash": [2, 2], "strokeWidth": 1},
   "encoding": {
    "y": {"field": "m", "type": "quantitative", "scale": {"domain": [-28.6, 123.8], "nice": false, "zero": false}, "axis": null}
   }
  },
  {
   "data": {"name": "lev"},
   "mark": {"type": "text", "color": "#e8e8e8", "fontSize": 6.5, "align": "left", "baseline": "middle"},
   "encoding": {
    "x": {"datum": 251.8, "scale": {"domain": [-1.3, 251], "nice": false, "zero": false}, "axis": null},
    "y": {"field": "m", "type": "quantitative", "scale": {"domain": [-28.6, 123.8], "nice": false, "zero": false}, "axis": null},
    "text": {"field": "m", "type": "quantitative", "format": "d"}
   }
  },
  {
   "data": {"name": "mfi"},
   "mark": {"type": "line", "color": "#6d7bd0", "strokeWidth": 1},
   "encoding": {
    "x": {"field": "i", "type": "quantitative", "scale": {"domain": [-1.3, 251], "nice": false, "zero": false}, "axis": null},
    "y": {"field": "m", "type": "quantitative", "scale": {"domain": [-28.6, 123.8], "nice": false, "zero": false}, "axis": null}
   }
  },
  {
   "data": {"name": "tlab"},
   "mark": {"type": "rule", "color": "#c0c0c0", "strokeWidth": 1},
   "encoding": {
    "x": {"field": "i", "type": "quantitative", "scale": {"domain": [-1.3, 251], "nice": false, "zero": false}, "axis": null},
    "y": {"datum": -28.6, "scale": {"domain": [-28.6, 123.8], "nice": false, "zero": false}, "axis": null},
    "y2": {"datum": -37}
   }
  },
  {
   "data": {"name": "tlab"},
   "mark": {"type": "text", "color": "#e8e8e8", "fontSize": 6.5, "align": "left", "baseline": "middle", "dx": 1},
   "encoding": {
    "x": {"field": "i", "type": "quantitative", "scale": {"domain": [-1.3, 251], "nice": false, "zero": false}, "axis": null},
    "y": {"datum": -49, "scale": {"domain": [-28.6, 123.8], "nice": false, "zero": false}, "axis": null},
    "text": {"field": "t"}
   }
  },
  {
   "data": {"values": [{"t": "MFI(14) 83.4383", "i": -0.6, "m": 100}]},
   "mark": {"type": "text", "color": "#e0e0e0", "fontSize": 6.5, "align": "left", "baseline": "middle"},
   "encoding": {
    "x": {"field": "i", "type": "quantitative", "scale": {"domain": [-1.3, 251], "nice": false, "zero": false}, "axis": null},
    "y": {"field": "m", "type": "quantitative", "scale": {"domain": [-28.6, 123.8], "nice": false, "zero": false}, "axis": null},
    "text": {"field": "t"}
   }
  }
 ]
}
]
}
